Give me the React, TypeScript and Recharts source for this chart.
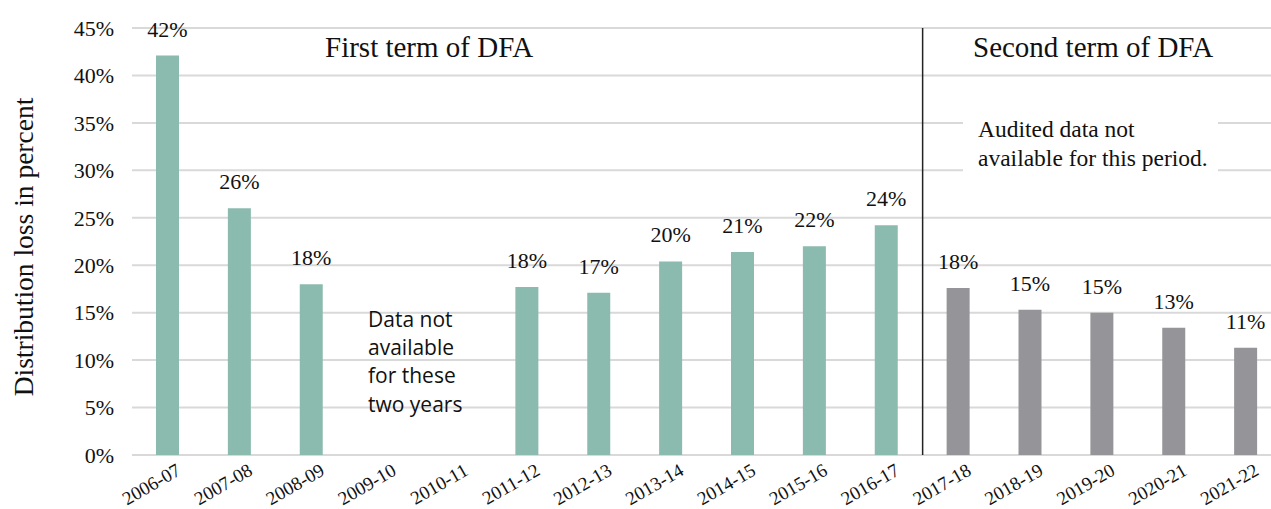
import React from 'react';
import { BarChart, Bar, Cell, XAxis, YAxis, CartesianGrid, LabelList, ReferenceLine } from 'recharts';

const years = [
  '2006-07', '2007-08', '2008-09', '2009-10', '2010-11', '2011-12', '2012-13', '2013-14',
  '2014-15', '2015-16', '2016-17', '2017-18', '2018-19', '2019-20', '2020-21', '2021-22',
];
// distribution loss in percent, null = data not available
const loss = [42.1, 26.0, 18.0, null, null, 17.7, 17.1, 20.4, 21.4, 22.0, 24.2, 17.6, 15.3, 15.0, 13.4, 11.3];
// which DFA term the year belongs to
const term = [1, 1, 1, 1, 1, 1, 1, 1, 1, 1, 1, 2, 2, 2, 2, 2];
const yTicks = [0, 5, 10, 15, 20, 25, 30, 35, 40, 45];

const GREEN = '#8bbaae';
const GREY = '#959499';
const SERIF = '"Liberation Serif", "DejaVu Serif", serif';
const SANS = '"Open Sans", "Noto Sans", sans-serif';

const data = years.map((year, i) => ({ year, loss: loss[i], term: term[i] }));

const YearTick = (props: any) => {
  const { x, y, payload } = props;
  const tx = x + 14;
  const ty = y + 19;
  return (
    <text
      x={tx}
      y={ty}
      textAnchor="end"
      transform={`rotate(-30, ${tx}, ${ty})`}
      fontFamily={SERIF}
      fontSize={19}
      fill="#111"
    >
      {payload.value}
    </text>
  );
};

export default function App() {
  return (
    <div style={{ position: 'absolute', left: 0, top: 0, width: 1271, height: 509, overflow: 'hidden', background: '#fff' }}>
      <BarChart width={1290} height={509} data={data} margin={{ top: 28, right: 8, bottom: 0, left: 0 }}>
        <CartesianGrid vertical={false} stroke="#d9d9d9" strokeWidth={2} />
        <XAxis dataKey="year" interval={0} height={54} axisLine={false} tickLine={false} tickSize={0} tickMargin={0} tick={<YearTick />} />
        <YAxis
          width={132}
          domain={[0, 45]}
          ticks={yTicks}
          interval={0}
          axisLine={false}
          tickLine={false}
          tickSize={0}
          tickMargin={18}
          tickFormatter={(v) => `${v}%`}
          tick={{ fill: '#111', fontSize: 22, fontFamily: SERIF }}
        />
        <Bar dataKey="loss" barSize={23} isAnimationActive={false}>
          {data.map((d) => (
            <Cell key={d.year} fill={d.term === 1 ? GREEN : GREY} />
          ))}
          <LabelList
            dataKey="loss"
            position="top"
            offset={19}
            formatter={(v: any) => (v == null ? '' : `${Math.round(v)}%`)}
            style={{ fill: '#111', fontSize: 22, fontFamily: SERIF }}
          />
        </Bar>
        <ReferenceLine x="2016-17" position="end" stroke="#222" strokeWidth={1.5} />
      </BarChart>
      <svg width={1271} height={509} style={{ position: 'absolute', left: 0, top: 0, pointerEvents: 'none' }}>
        <text x={33} y={247} textAnchor="middle" transform="rotate(-90, 33, 247)" fontFamily={SERIF} fontSize={27.5} fill="#111">
          Distribution loss in percent
        </text>
        <text x={325} y={57} fontFamily={SERIF} fontSize={29} fill="#111">First term of DFA</text>
        <text x={973} y={57} fontFamily={SERIF} fontSize={29} fill="#111">Second term of DFA</text>
        <rect x={963} y={110} width={255} height={70} fill="#fff" />
        <text fontFamily={SERIF} fontSize={23.5} fill="#111">
          <tspan x={978} y={137}>Audited data not</tspan>
          <tspan x={978} y={166}>available for this period.</tspan>
        </text>
        <text fontFamily={SANS} fontSize={21} fill="#111">
          <tspan x={368} y={327}>Data not</tspan>
          <tspan x={368} y={355}>available</tspan>
          <tspan x={368} y={383}>for these</tspan>
          <tspan x={368} y={412}>two years</tspan>
        </text>
      </svg>
    </div>
  );
}
